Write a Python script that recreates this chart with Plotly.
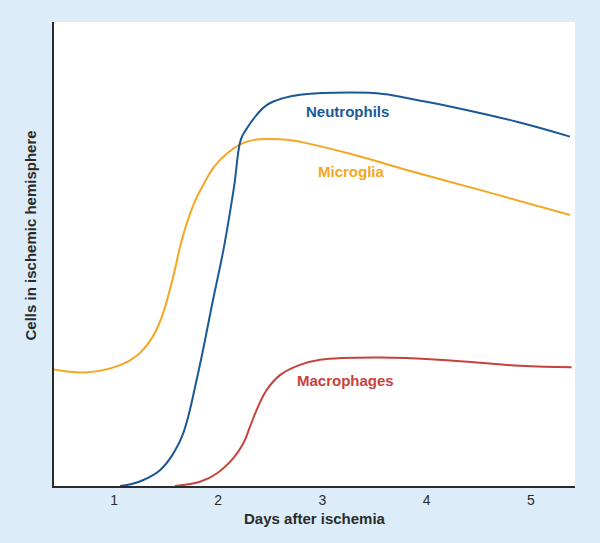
import plotly.graph_objects as go

# Days after ischemia (x) and relative cell counts (y, 0-100)
micro_x = [0.424, 0.744, 1.064, 1.224, 1.352, 1.448, 1.560, 1.655, 1.768, 1.864, 1.960, 2.087,
           2.216, 2.344, 2.504, 2.663, 2.823, 3.265, 3.905, 4.544, 5.376]
micro_y = [25.1, 24.5, 26.1, 28.2, 31.5, 35.8, 44.4, 53.4, 60.9, 65.2, 68.8, 71.7,
           73.7, 74.6, 74.8, 74.6, 74.0, 71.6, 67.5, 63.6, 58.4]

neut_x = [1.058, 1.122, 1.281, 1.441, 1.569, 1.665, 1.800, 1.950, 2.056, 2.152, 2.216, 2.264,
          2.369, 2.465, 2.625, 2.785, 3.265, 3.585, 3.905, 4.225, 4.865, 5.376]
neut_y = [0.0, 0.2, 1.3, 3.4, 7.0, 11.4, 23.6, 40.1, 51.6, 64.5, 74.6, 76.7,
          80.0, 82.1, 83.6, 84.3, 84.8, 84.5, 83.2, 81.8, 78.5, 75.3]

macro_x = [1.585, 1.665, 1.825, 1.986, 2.145, 2.241, 2.305, 2.369, 2.465, 2.593, 2.785, 2.977,
           3.553, 4.256, 4.896, 5.392]
macro_y = [0.0, 0.2, 0.9, 2.7, 6.0, 9.2, 12.8, 16.4, 20.7, 23.9, 26.1, 27.2,
           27.7, 27.0, 25.9, 25.6]

x_ticks = [1, 2, 3, 4, 5]
tick_labels = ["1", "2", "3", "4", "5"]

labels = ["Neutrophils", "Microglia", "Macrophages"]
label_x = [3.24, 3.28, 3.22]
label_y = [80.8, 67.7, 22.8]

BLUE = "#1b5996"
ORANGE = "#f5a623"
RED = "#c8423d"
colors = [BLUE, ORANGE, RED]
FONT = "Liberation Sans, Arial, sans-serif"

fig = go.Figure()
for xs, ys, c, name in [(micro_x, micro_y, ORANGE, "Microglia"),
                        (neut_x, neut_y, BLUE, "Neutrophils"),
                        (macro_x, macro_y, RED, "Macrophages")]:
    fig.add_trace(go.Scatter(x=xs, y=ys, mode="lines", name=name,
                             line=dict(color=c, width=2, shape="spline", smoothing=1.2),
                             showlegend=False, hoverinfo="skip"))

for t, lx, ly, c in zip(labels, label_x, label_y, colors):
    fig.add_annotation(x=lx, y=ly, text="<b>%s</b>" % t, showarrow=False,
                       font=dict(family=FONT, size=15, color=c))

# y-axis title placed as rotated text
fig.add_annotation(xref="paper", yref="paper", x=-0.046, y=0.54, xanchor="center", yanchor="middle",
                   text="<b>Cells in ischemic hemisphere</b>", textangle=-90, showarrow=False,
                   font=dict(family=FONT, size=15, color="#2b2b2b"))

fig.update_layout(
    width=600, height=543,
    margin=dict(l=54, r=25, t=22, b=57),
    paper_bgcolor="#dcecf9",
    plot_bgcolor="#ffffff",
    font=dict(family=FONT, size=14, color="#2b2b2b"),
    xaxis=dict(range=[0.424, 5.424], tickmode="array", tickvals=x_ticks, ticktext=tick_labels,
               showgrid=False, zeroline=False, showline=True, linecolor="#2b2b2b", linewidth=2,
               ticks="", tickfont=dict(size=14),
               title=dict(text="<b>Days after ischemia</b>", font=dict(size=15), standoff=7)),
    yaxis=dict(range=[0, 100], showgrid=False, zeroline=False, showline=True,
               linecolor="#2b2b2b", linewidth=2, showticklabels=False, ticks=""),
)

fig.write_html("out.html", config={"displayModeBar": False},
               post_script="document.body.style.margin='0';document.body.style.background='#dcecf9';")
